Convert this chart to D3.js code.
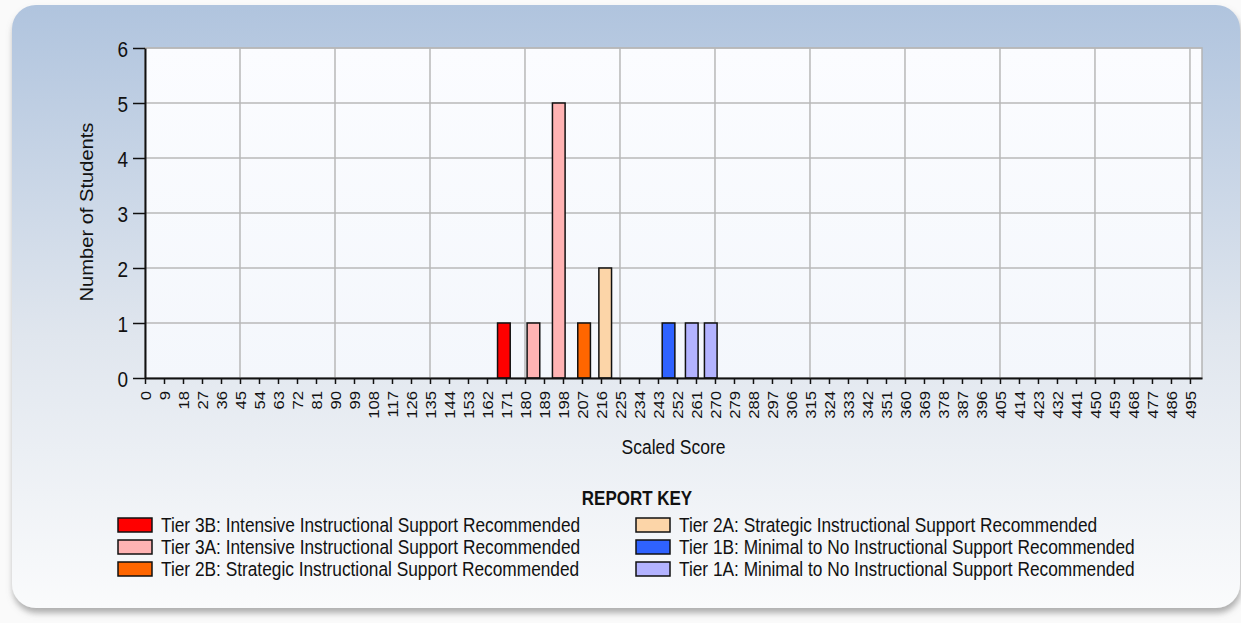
<!DOCTYPE html>
<html>
<head>
<meta charset="utf-8">
<script src="https://cdn.jsdelivr.net/npm/d3@7"></script>
<style>
  body { margin: 0; background: #fafafa; }
  text { font-family: "Liberation Sans", Arial, sans-serif; fill: #111; }
</style>
</head>
<body>
<svg></svg>
<script>
// scores that had students, and how many
const scores = [170, 184, 196, 208, 218, 248, 259, 268];
const counts = [1, 1, 5, 1, 2, 1, 1, 1];
const scoreTiers = ['3B', '3A', '3A', '2B', '2A', '1B', '1A', '1A'];

const tierKeys = ['3B', '3A', '2B', '2A', '1B', '1A'];
const tierLabels = [
    'Tier 3B: Intensive Instructional Support Recommended',
    'Tier 3A: Intensive Instructional Support Recommended',
    'Tier 2B: Strategic Instructional Support Recommended',
    'Tier 2A: Strategic Instructional Support Recommended',
    'Tier 1B: Minimal to No Instructional Support Recommended',
    'Tier 1A: Minimal to No Instructional Support Recommended'
];
const tierColors = ['#ff0000', '#ffb3b3', '#ff6600', '#fcd5a8', '#2f62ff', '#b3b3ff'];

const xTicks = d3.range(0, 496, 9);
const yTicks = [0, 1, 2, 3, 4, 5, 6];
const xGrid = d3.range(45, 496, 45);

const svgWidth = 1241;
const svgHeight = 623;
const plot = {left: 145, right: 1202, top: 48, bottom: 378};
const SY = 1.15; // text in the source is a bit taller than wide

const svg = d3.select('svg')
    .attr('width', svgWidth)
    .attr('height', svgHeight);

const defs = svg.append('defs');
const bg = defs.append('linearGradient')
    .attr('id', 'panelBg')
    .attr('x1', 0).attr('y1', 0).attr('x2', 0).attr('y2', 1);
bg.append('stop').attr('offset', '0%').attr('stop-color', '#b0c4de');
bg.append('stop').attr('offset', '55%').attr('stop-color', '#e0e6ee');
bg.append('stop').attr('offset', '100%').attr('stop-color', '#fafbfc');

const plotBg = defs.append('linearGradient')
    .attr('id', 'plotBg')
    .attr('x1', 0).attr('y1', 0).attr('x2', 0).attr('y2', 1);
plotBg.append('stop').attr('offset', '0%').attr('stop-color', '#fbfcff');
plotBg.append('stop').attr('offset', '100%').attr('stop-color', '#f4f7fc');

defs.append('filter')
    .attr('id', 'shadow')
    .attr('x', '-5%').attr('y', '-5%').attr('width', '110%').attr('height', '115%')
    .append('feDropShadow')
    .attr('dx', 1).attr('dy', 5).attr('stdDeviation', 3)
    .attr('flood-color', '#7a7a7a').attr('flood-opacity', 0.6);

// outer panel
svg.append('rect')
    .attr('x', 12).attr('y', 5)
    .attr('width', 1228).attr('height', 603)
    .attr('rx', 24).attr('ry', 24)
    .attr('fill', 'url(#panelBg)')
    .attr('filter', 'url(#shadow)');

const x = d3.scaleLinear().domain([0, 500.7]).range([plot.left, plot.right]);
const y = d3.scaleLinear().domain([0, 6]).range([plot.bottom, plot.top]);

svg.append('rect')
    .attr('x', plot.left).attr('y', plot.top)
    .attr('width', plot.right - plot.left)
    .attr('height', plot.bottom - plot.top)
    .attr('fill', 'url(#plotBg)')
    .attr('stroke', '#b4b4b4')
    .attr('stroke-width', 1.5);

// grid
svg.append('g')
    .selectAll('line')
    .data(yTicks.slice(1))
    .enter()
    .append('line')
    .attr('x1', plot.left).attr('x2', plot.right)
    .attr('y1', d => y(d)).attr('y2', d => y(d))
    .attr('stroke', '#b8b8b8').attr('stroke-width', 1.5);

svg.append('g')
    .selectAll('line')
    .data(xGrid)
    .enter()
    .append('line')
    .attr('x1', d => x(d)).attr('x2', d => x(d))
    .attr('y1', plot.top).attr('y2', plot.bottom)
    .attr('stroke', '#b8b8b8').attr('stroke-width', 1.5);

// bars
const barW = x(6) - x(0);
svg.append('g')
    .selectAll('rect')
    .data(scores)
    .enter()
    .append('rect')
    .attr('x', d => x(d) - barW / 2)
    .attr('y', (d, i) => y(counts[i]))
    .attr('width', barW)
    .attr('height', (d, i) => y(0) - y(counts[i]))
    .attr('fill', (d, i) => tierColors[tierKeys.indexOf(scoreTiers[i])])
    .attr('stroke', '#111')
    .attr('stroke-width', 1.5);

// axes
const yAxis = svg.append('g')
    .attr('transform', 'translate(' + plot.left + ',0)')
    .call(d3.axisLeft(y).tickValues(yTicks).tickFormat(d3.format('d')).tickSize(12).tickSizeOuter(0));
yAxis.selectAll('text')
    .attr('x', -17)
    .attr('dy', null)
    .attr('transform', 'scale(1,' + SY + ')')
    .attr('dominant-baseline', 'central')
    .style('font-size', '19px');

const xAxis = svg.append('g')
    .attr('transform', 'translate(0,' + plot.bottom + ')')
    .call(d3.axisBottom(x).tickValues(xTicks).tickSize(6).tickSizeOuter(0));
xAxis.selectAll('text')
    .attr('x', 0).attr('y', 0).attr('dy', null)
    .attr('text-anchor', 'end')
    .attr('dominant-baseline', 'central')
    .attr('transform', 'translate(0,13) scale(1,' + SY + ') rotate(-90)')
    .style('font-size', '14.5px');

svg.selectAll('.domain').attr('stroke', '#111').attr('stroke-width', 2);
svg.selectAll('.tick line').attr('stroke', '#111').attr('stroke-width', 1.5);
svg.selectAll('.tick text').attr('fill', '#111');

// axis titles
svg.append('text')
    .attr('transform', 'translate(93,212) scale(1,' + SY + ') rotate(-90)')
    .attr('text-anchor', 'middle')
    .style('font-size', '17.5px')
    .text('Number of Students');

svg.append('text')
    .attr('transform', 'translate(' + (plot.left + plot.right) / 2 + ',454) scale(1,' + SY + ')')
    .attr('text-anchor', 'middle')
    .style('font-size', '17.5px')
    .text('Scaled Score');

// legend
svg.append('text')
    .attr('transform', 'translate(637,505) scale(1,' + SY + ')')
    .attr('text-anchor', 'middle')
    .style('font-size', '17px')
    .style('font-weight', 'bold')
    .text('REPORT KEY');

const legend = svg.append('g')
    .selectAll('g')
    .data(tierLabels)
    .enter()
    .append('g')
    .attr('transform', (d, i) => {
        const trans = [i < 3 ? 118 : 636, 532 + (i % 3) * 22];
        return 'translate(' + trans + ')';
    });

legend.append('rect')
    .attr('x', 0).attr('y', -14)
    .attr('width', 34).attr('height', 14)
    .attr('fill', (d, i) => tierColors[i])
    .attr('stroke', '#111')
    .attr('stroke-width', 1.5);

legend.append('text')
    .attr('transform', 'translate(43,0) scale(1,' + SY + ')')
    .style('font-size', '17.3px')
    .text(d => d);
</script>
</body>
</html>
